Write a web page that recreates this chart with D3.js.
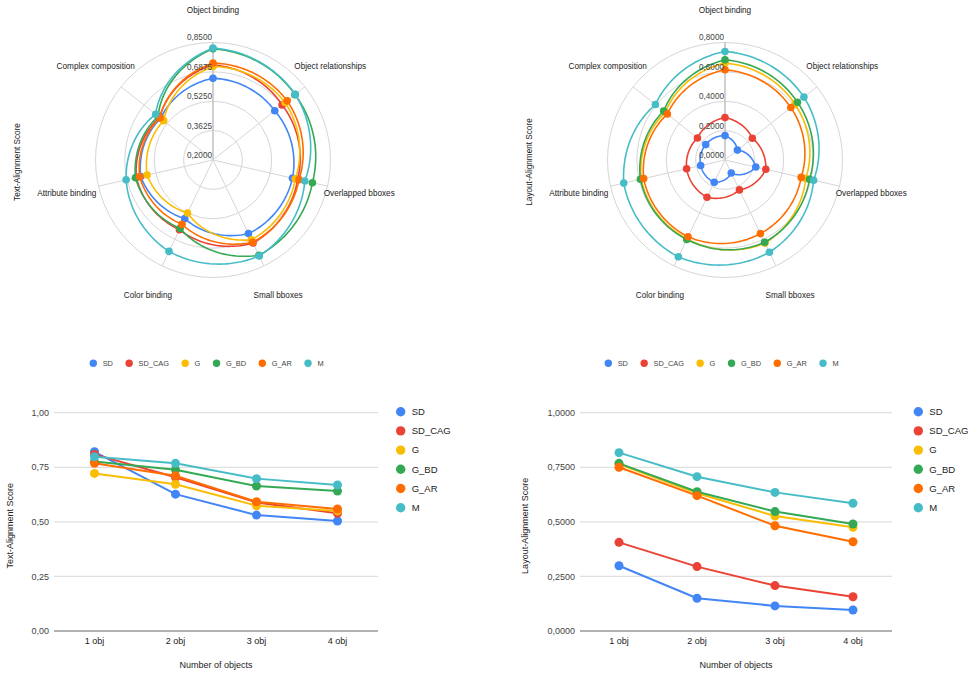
<!DOCTYPE html>
<html>
<head>
<meta charset="utf-8">
<script src="https://cdn.jsdelivr.net/npm/d3@7"></script>
<style>
  body { margin: 0; background: #fff; }
  svg { display: block; font-family: "Liberation Sans", Arial, sans-serif; }
</style>
</head>
<body>
<svg id="chart" width="972" height="679"></svg>
<script>
const series = ["SD", "SD_CAG", "G", "G_BD", "G_AR", "M"];
const colors = ["#4285F4", "#EA4335", "#FBBC04", "#34A853", "#FF6D01", "#46BDC6"];

const radarAxes = ["Object binding", "Object relationships", "Overlapped bboxes", "Small bboxes",
	"Color binding", "Attribute binding", "Complex composition"];

// Text-Alignment Score per radar axis
const textSD     = [0.652, 0.637, 0.651, 0.652, 0.560, 0.610, 0.570];
const textSD_CAG = [0.726, 0.689, 0.680, 0.710, 0.628, 0.635, 0.578];
const textG      = [0.717, 0.710, 0.667, 0.690, 0.525, 0.574, 0.549];
const textG_BD   = [0.815, 0.780, 0.764, 0.785, 0.620, 0.640, 0.588];
const textG_AR   = [0.736, 0.725, 0.688, 0.705, 0.595, 0.616, 0.575];
const textM      = [0.819, 0.782, 0.721, 0.789, 0.761, 0.693, 0.606];
const textTicks = [0.2, 0.3625, 0.525, 0.6875, 0.85];

// Layout-Alignment Score per radar axis
const layoutSD     = [0.166, 0.108, 0.215, 0.098, 0.169, 0.170, 0.168];
const layoutSD_CAG = [0.289, 0.238, 0.285, 0.226, 0.282, 0.268, 0.240];
const layoutG      = [0.660, 0.610, 0.564, 0.628, 0.595, 0.585, 0.520];
const layoutG_BD   = [0.682, 0.631, 0.590, 0.622, 0.600, 0.591, 0.534];
const layoutG_AR   = [0.614, 0.573, 0.532, 0.556, 0.580, 0.568, 0.502];
const layoutM      = [0.739, 0.687, 0.619, 0.697, 0.732, 0.707, 0.606];
const layoutTicks = [0, 0.2, 0.4, 0.6, 0.8];

// by number of objects
const objects = ["1 obj", "2 obj", "3 obj", "4 obj"];
const objSD     = [0.821, 0.627, 0.531, 0.504];
const objSD_CAG = [0.809, 0.704, 0.589, 0.539];
const objG      = [0.722, 0.672, 0.574, 0.550];
const objG_BD   = [0.776, 0.739, 0.664, 0.641];
const objG_AR   = [0.768, 0.711, 0.592, 0.559];
const objM      = [0.798, 0.768, 0.698, 0.669];
const objLayoutSD     = [0.299, 0.150, 0.115, 0.096];
const objLayoutSD_CAG = [0.406, 0.295, 0.208, 0.157];
const objLayoutG      = [0.765, 0.631, 0.527, 0.475];
const objLayoutG_BD   = [0.768, 0.638, 0.547, 0.490];
const objLayoutG_AR   = [0.750, 0.620, 0.482, 0.409];
const objLayoutM      = [0.817, 0.707, 0.635, 0.585];
const lineTicks = [0, 0.25, 0.5, 0.75, 1];

const svg = d3.select("#chart");
const comma = (n) => (s) => s.toFixed(n).replace(".", ",");

function radar(cx, cy, ticks, values, title) {
	const R = 117.5;
	const g = svg.append("g").attr("transform", "translate(" + cx + "," + cy + ")");
	const r = d3.scaleLinear().domain([ticks[0], ticks[ticks.length - 1]]).range([0, R]);
	const angle = d3.scaleLinear().domain([0, radarAxes.length]).range([0, 2 * Math.PI]);

	g.selectAll("circle.ring")
		.data(ticks.slice(1))
		.enter().append("circle")
		.attr("r", (d) => r(d))
		.attr("fill", "none")
		.attr("stroke", "#d6d6d6")
		.attr("stroke-width", 1);

	g.selectAll("line.spoke")
		.data(radarAxes)
		.enter().append("line")
		.attr("x2", (d, i) => R * Math.sin(angle(i)))
		.attr("y2", (d, i) => -R * Math.cos(angle(i)))
		.attr("stroke", (d, i) => i === 0 ? "#c4c4c4" : "#d6d6d6")
		.attr("stroke-width", (d, i) => i === 0 ? 1.6 : 1);

	g.selectAll("text.axis")
		.data(radarAxes)
		.enter().append("text")
		.attr("x", (d, i) => 150 * Math.sin(angle(i)))
		.attr("y", (d, i) => -150 * Math.cos(angle(i)))
		.attr("text-anchor", "middle")
		.attr("dy", "0.35em")
		.attr("font-size", 8.2)
		.attr("fill", "#222")
		.text((d) => d);

	// polar-linear segments between neighbouring axes
	const path = d3.lineRadial().curve(d3.curveLinearClosed);
	const steps = 30;
	values.forEach((vals, s) => {
		const pts = [];
		vals.forEach((v, i) => {
			const w = vals[(i + 1) % vals.length];
			for (let k = 0; k < steps; k++) {
				const t = k / steps;
				pts.push([angle(i + t), r(v) + (r(w) - r(v)) * t]);
			}
		});
		g.append("path")
			.attr("d", path(pts))
			.attr("fill", "none")
			.attr("stroke", colors[s])
			.attr("stroke-width", 1.6);
		g.selectAll("circle.p" + s)
			.data(vals)
			.enter().append("circle")
			.attr("cx", (d, i) => r(d) * Math.sin(angle(i)))
			.attr("cy", (d, i) => -r(d) * Math.cos(angle(i)))
			.attr("r", 3.8)
			.attr("fill", colors[s]);
	});

	g.selectAll("text.tick")
		.data(ticks)
		.enter().append("text")
		.attr("x", -1)
		.attr("y", (d) => -r(d) - 5)
		.attr("text-anchor", "end")
		.attr("dy", "0.35em")
		.attr("font-size", 8.2)
		.attr("fill", "#444")
		.text(comma(4));

	svg.append("text")
		.attr("transform", "translate(" + (cx - 196) + "," + (cy + 2) + ") rotate(-90)")
		.attr("text-anchor", "middle")
		.attr("dy", "0.35em")
		.attr("font-size", 8.2)
		.attr("fill", "#222")
		.text(title);
}

function hLegend(x0, y) {
	let x = x0;
	series.forEach((name, i) => {
		svg.append("circle").attr("cx", x).attr("cy", y).attr("r", 3.7).attr("fill", colors[i]);
		const t = svg.append("text")
			.attr("x", x + 9.4)
			.attr("y", y)
			.attr("dy", "0.35em")
			.attr("font-size", 7.4)
			.attr("fill", "#444")
			.text(name);
		x += 9.4 + t.node().getComputedTextLength() + 16.2;
	});
}

function lineChart(left, right, values, digits, title, legendX) {
	const top = 412.7, bottom = 631;
	const x = d3.scalePoint().domain(objects).range([left, right]).padding(0.5);
	const y = d3.scaleLinear().domain([0, 1]).range([bottom, top]);

	svg.append("g").selectAll("line")
		.data(lineTicks)
		.enter().append("line")
		.attr("x1", left).attr("x2", right)
		.attr("y1", (d) => y(d)).attr("y2", (d) => y(d))
		.attr("stroke", (d) => d === 0 ? "#666" : "#e0e0e0")
		.attr("stroke-width", 1.2);

	svg.append("g").selectAll("text")
		.data(lineTicks)
		.enter().append("text")
		.attr("x", left - 5)
		.attr("y", (d) => y(d))
		.attr("dy", "0.35em")
		.attr("text-anchor", "end")
		.attr("font-size", 9)
		.attr("fill", "#444")
		.text(comma(digits));

	svg.append("g").selectAll("text")
		.data(objects)
		.enter().append("text")
		.attr("x", (d) => x(d))
		.attr("y", 641)
		.attr("dy", "0.35em")
		.attr("text-anchor", "middle")
		.attr("font-size", 9)
		.attr("fill", "#222")
		.text((d) => d);

	svg.append("text")
		.attr("x", (left + right) / 2)
		.attr("y", 665)
		.attr("dy", "0.35em")
		.attr("text-anchor", "middle")
		.attr("font-size", 9)
		.attr("fill", "#222")
		.text("Number of objects");

	svg.append("text")
		.attr("transform", "translate(" + (left - 44 - (digits - 2) * 5.5) + "," + ((top + bottom) / 2 + 4) + ") rotate(-90)")
		.attr("text-anchor", "middle")
		.attr("dy", "0.35em")
		.attr("font-size", 9)
		.attr("fill", "#222")
		.text(title);

	const line = d3.line().x((d, i) => x(objects[i])).y((d) => y(d));
	values.forEach((vals, s) => {
		svg.append("path")
			.attr("d", line(vals))
			.attr("fill", "none")
			.attr("stroke", colors[s])
			.attr("stroke-width", 2);
		svg.append("g").selectAll("circle")
			.data(vals)
			.enter().append("circle")
			.attr("cx", (d, i) => x(objects[i]))
			.attr("cy", (d) => y(d))
			.attr("r", 4.5)
			.attr("fill", colors[s]);
	});

	const ly = d3.scalePoint().domain(series).range([411.7, 507.7]);
	series.forEach((name, i) => {
		svg.append("circle").attr("cx", legendX).attr("cy", ly(name)).attr("r", 4.7).attr("fill", colors[i]);
		svg.append("text")
			.attr("x", legendX + 11)
			.attr("y", ly(name))
			.attr("dy", "0.35em")
			.attr("font-size", 9.5)
			.attr("fill", "#222")
			.text(name);
	});
}

radar(213, 160, textTicks, [textSD, textSD_CAG, textG, textG_BD, textG_AR, textM], "Text-Alignment Score");
radar(725, 160, layoutTicks, [layoutSD, layoutSD_CAG, layoutG, layoutG_BD, layoutG_AR, layoutM], "Layout-Alignment Score");
hLegend(93.3, 363.3);
hLegend(608.3, 363.3);
lineChart(54, 378, [objSD, objSD_CAG, objG, objG_BD, objG_AR, objM], 2, "Text-Alignment Score", 400.7);
lineChart(580, 892, [objLayoutSD, objLayoutSD_CAG, objLayoutG, objLayoutG_BD, objLayoutG_AR, objLayoutM], 4, "Layout-Alignment Score", 918.3);
</script>
</body>
</html>
